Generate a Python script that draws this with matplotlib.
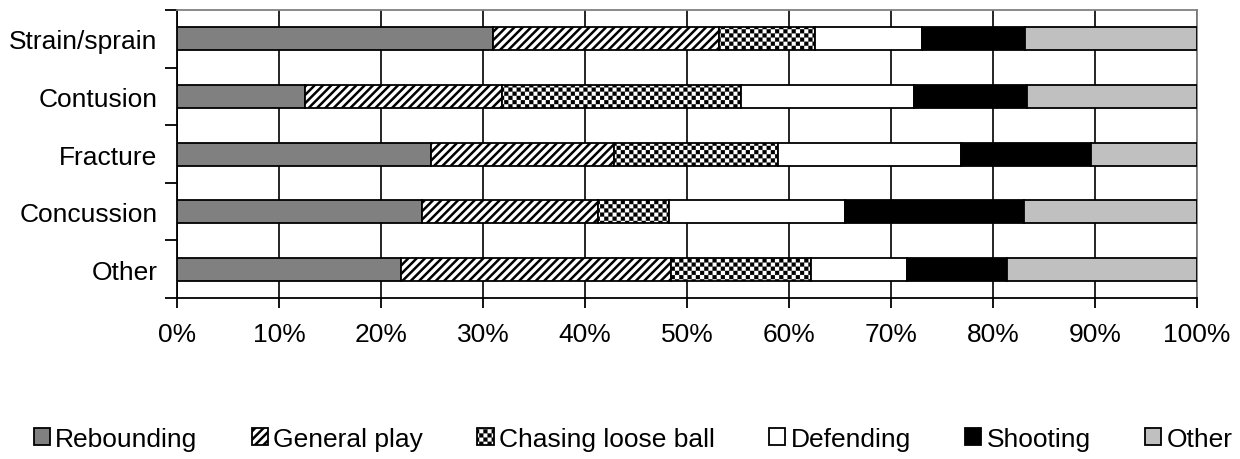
import warnings
import numpy as np
import matplotlib
matplotlib.use('Agg')
import matplotlib.pyplot as plt
import matplotlib.hatch as mhatch
from matplotlib.path import Path
from matplotlib.ticker import PercentFormatter

# Data (share of each injury)
injuries = ['Strain/sprain', 'Contusion', 'Fracture', 'Concussion', 'Other']
causes = ['Rebounding', 'General play', 'Chasing loose ball', 'Defending', 'Shooting', 'Other']
rebounding = [31.0, 12.6, 24.9, 24.0, 22.0]
general_play = [22.1, 19.3, 17.9, 17.3, 26.4]
chasing = [9.5, 23.4, 16.1, 6.9, 13.8]
defending = [10.4, 17.0, 18.0, 17.3, 9.4]
shooting = [10.1, 11.0, 12.7, 17.5, 9.8]
other = [16.9, 16.7, 10.4, 17.0, 18.6]
series = [rebounding, general_play, chasing, defending, shooting, other]

colors = ['#808080', 'white', 'white', 'white', 'black', '#c0c0c0']
hatches = [None, '////', '#', None, None, None]
hatch_lw = [1.0, 1.8, 0.2, 1.0, 1.0, 1.0]


# checkerboard hatch ('#'), matplotlib has none built in
class CheckerHatch(mhatch.HatchPatternBase):
    def __init__(self, hatch, density):
        self.n = 12 * hatch.count('#')
        if self.n:
            self.squares = [(i, j) for j in range(2 * self.n) for i in range(2 * self.n)
                            if (i + j) % 2 == 0]
        else:
            self.squares = []
        self.num_vertices = len(self.squares) * 5

    def set_vertices_and_codes(self, vertices, codes):
        s = 1.0 / (2 * self.n)
        d = s * 0.03
        for k, (i, j) in enumerate(self.squares):
            x0, y0 = i * s + d, j * s + d
            x1, y1 = (i + 1) * s - d, (j + 1) * s - d
            vertices[k * 5:k * 5 + 5] = [(x0, y0), (x1, y0), (x1, y1), (x0, y1), (x0, y0)]
            codes[k * 5] = Path.MOVETO
            codes[k * 5 + 1:k * 5 + 4] = Path.LINETO
            codes[k * 5 + 4] = Path.CLOSEPOLY


mhatch._hatch_types.append(CheckerHatch)
warnings.filterwarnings('ignore')

plt.rcParams['font.family'] = ['Liberation Sans', 'DejaVu Sans']
plt.rcParams['font.size'] = 19
plt.rcParams['hatch.linewidth'] = 1.6
plt.rcParams['hatch.color'] = '#1a1a1a'

fig = plt.figure(figsize=(12.4, 4.6), dpi=100)
ax = fig.add_axes([0.1427, 0.35, 0.8226, 0.626])

y = np.arange(len(injuries))
left = np.zeros(len(injuries))
for name, vals, col, h, hl in zip(causes, series, colors, hatches, hatch_lw):
    vals = np.array(vals) / 100.0
    bars = ax.barh(y, vals, left=left, height=0.4, color=col, edgecolor='black',
                   linewidth=1.3, hatch=h, label=name, zorder=3)
    for b in bars:
        if hasattr(b, 'set_hatch_linewidth'):
            b.set_hatch_linewidth(hl)
    left += vals

ax.set_xlim(0, 1)
ax.set_ylim(len(injuries) - 0.5, -0.5)
ax.set_xticks(np.arange(0, 1.01, 0.1))
ax.xaxis.set_major_formatter(PercentFormatter(1.0, decimals=0))
ax.tick_params(axis='x', direction='out', length=7, width=1.3, pad=10, colors='black')
ax.xaxis.grid(True, color='black', linewidth=1.2, zorder=0)
ax.set_axisbelow(True)

ax.set_yticks(np.arange(-0.5, len(injuries), 1.0))
ax.set_yticklabels([])
ax.set_yticks(y, minor=True)
ax.set_yticklabels(injuries, minor=True)
ax.tick_params(axis='y', which='major', direction='out', length=9, width=1.3)
ax.tick_params(axis='y', which='minor', length=0, pad=14)

for side in ['top', 'right']:
    ax.spines[side].set_color('#808080')
    ax.spines[side].set_linewidth(1.3)
for side in ['left', 'bottom']:
    ax.spines[side].set_linewidth(1.3)

leg = fig.legend(loc='center', bbox_to_anchor=(0.5105, 0.043), ncol=6, frameon=False,
                 handlelength=0.62, handleheight=0.62, handletextpad=0.2,
                 columnspacing=2.05, fontsize=19)
for hnd, hl in zip(leg.legend_handles, hatch_lw):
    if hasattr(hnd, 'set_hatch_linewidth'):
        hnd.set_hatch_linewidth(hl)

fig.savefig('out.png', dpi=100)
